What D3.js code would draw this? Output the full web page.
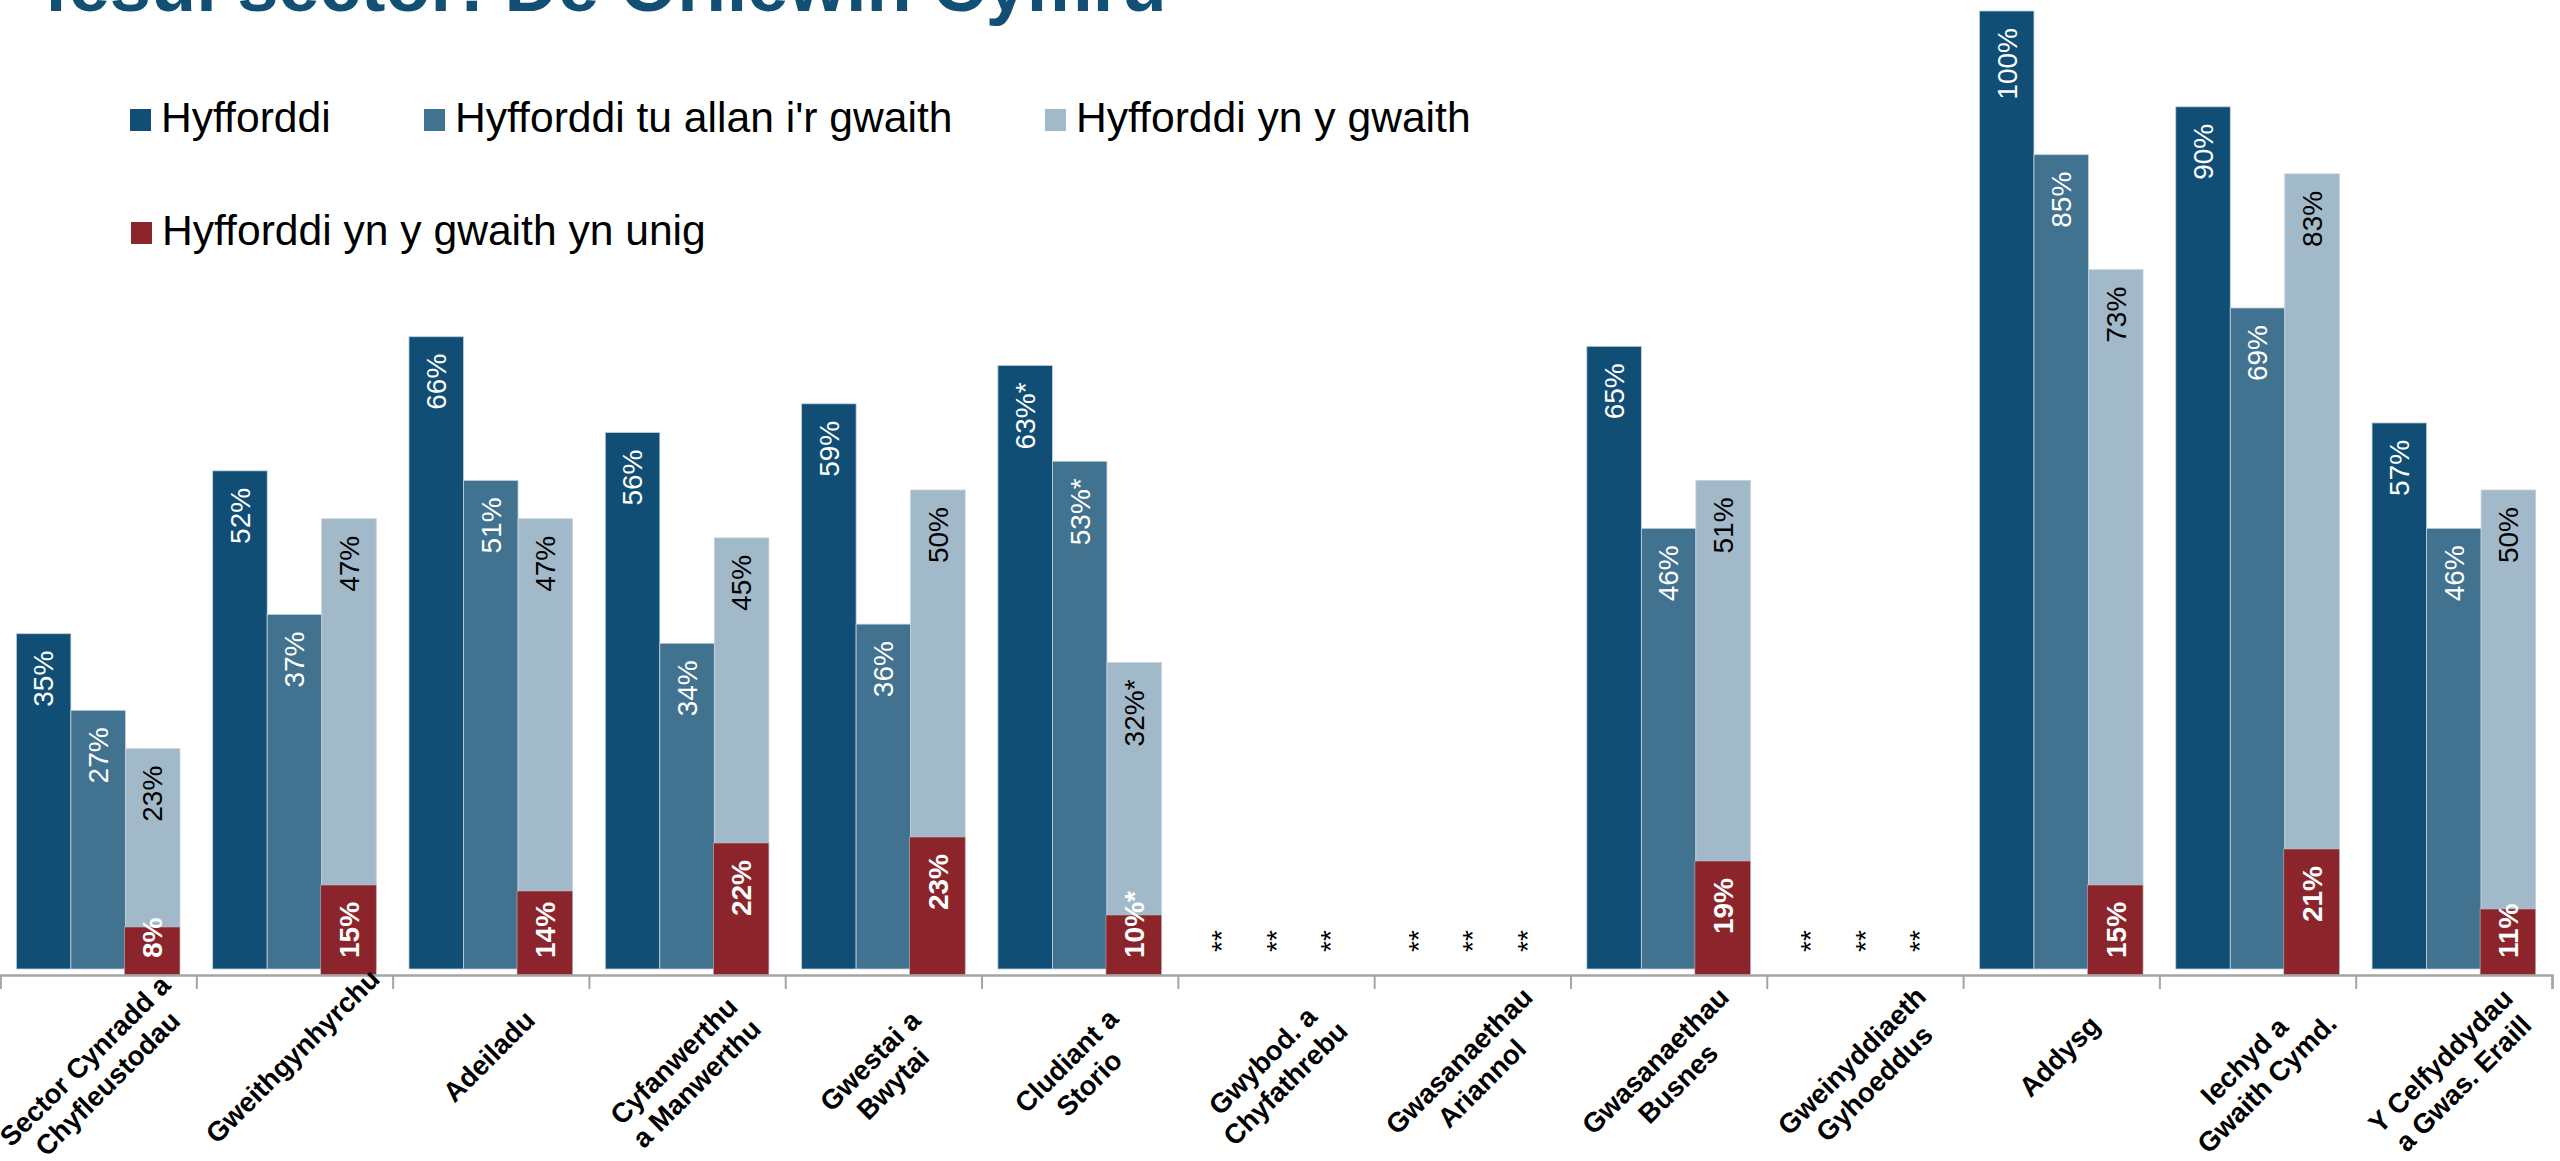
<!DOCTYPE html>
<html><head><meta charset="utf-8">
<script src="https://cdn.jsdelivr.net/npm/d3@7"></script>
<style>
html,body{margin:0;padding:0;background:#fff;overflow:hidden}
svg{display:block}
text{font-family:"Liberation Sans",Arial,Helvetica,sans-serif}
</style></head><body>
<svg id="chart" width="2560" height="1161"></svg>
<script>
// ---------- data ----------
const titleText = "fesul sector: De Orllewin Cymru";
const categories = [
  "Sector Cynradd a\nChyfleustodau",
  "Gweithgynhyrchu",
  "Adeiladu",
  "Cyfanwerthu\na Manwerthu",
  "Gwestai a\nBwytai",
  "Cludiant a\nStorio",
  "Gwybod. a\nChyfathrebu",
  "Gwasanaethau\nAriannol",
  "Gwasanaethau\nBusnes",
  "Gweinyddiaeth\nGyhoeddus",
  "Addysg",
  "Iechyd a\nGwaith Cymd.",
  "Y Celfyddydau\na Gwas. Eraill"
];
const seriesNames = ["Hyfforddi", "Hyfforddi tu allan i'r gwaith", "Hyfforddi yn y gwaith", "Hyfforddi yn y gwaith yn unig"];
// null = suppressed (shown as **)
const hyfforddi      = [35, 52, 66, 56, 59, 63, null, null, 65, null, 100, 90, 57];
const tuAllan        = [27, 37, 51, 34, 36, 53, null, null, 46, null, 85, 69, 46];
const ynYGwaith      = [23, 47, 47, 45, 50, 32, null, null, 51, null, 73, 83, 50];
const ynYGwaithUnig  = [8, 15, 14, 22, 23, 10, null, null, 19, null, 15, 21, 11];
// low base flag (value shown with *)
const lowBase        = [false, false, false, false, false, true, false, false, false, false, false, false, false];

// ---------- style ----------
const colors = ["#114E75", "#41728F", "#A2B9CA", "#8B252B"];
const labelColors = ["#ffffff", "#ffffff", "#000000", "#ffffff"];
const titleColor = "#124F74";

const svg = d3.select("#chart");

// ---------- scales ----------
const idx = d3.range(categories.length);
const x0 = d3.scaleBand().domain(idx).range([0, 2552]).padding(0);
const x1 = d3.scaleBand().domain([0, 1, 2]).range([0, x0.bandwidth()]).paddingInner(0).paddingOuter(0.3);
const y = d3.scaleLinear().domain([0, 100]).range([969, 11]);
const y2 = d3.scaleLinear().domain([0, 100]).range([975, 375]);
const xb = d3.scaleLinear().domain([0, categories.length]).range([0, 2552]);

// ---------- title ----------
svg.append("text")
  .attr("x", 44).attr("y", 11)
  .attr("font-size", 74).attr("font-weight", "bold")
  .attr("fill", titleColor)
  .text(titleText);

// ---------- legend ----------
const legendItems = [
  {i: 0, x: 130, row: 0},
  {i: 1, x: 424, row: 0},
  {i: 2, x: 1045, row: 0},
  {i: 3, x: 131, row: 1}
];
const legend = svg.append("g");
legendItems.forEach(d => {
  const yBase = d.row === 0 ? 132 : 245;
  legend.append("rect").attr("x", d.x).attr("y", yBase - 23).attr("width", 21).attr("height", 22).attr("fill", colors[d.i]);
  legend.append("text").attr("x", d.x + 31).attr("y", yBase).attr("font-size", 42.6).attr("fill", "#000").text(seriesNames[d.i]);
});

// ---------- bars ----------
const primary = [hyfforddi, tuAllan, ynYGwaith];
const plot = svg.append("g");

primary.forEach((arr, s) => {
  plot.selectAll(null).data(idx.filter(i => arr[i] != null)).enter().append("rect")
    .attr("x", i => x0(i) + x1(s))
    .attr("width", x1.bandwidth())
    .attr("y", i => y(arr[i]))
    .attr("height", i => y(0) - y(arr[i]))
    .attr("fill", colors[s])
    .attr("stroke", "#c3d0da").attr("stroke-width", 0.8);
});
// red (secondary axis) bars
plot.selectAll(null).data(idx.filter(i => ynYGwaithUnig[i] != null)).enter().append("rect")
  .attr("x", i => x0(i) + x1(2) - 1)
  .attr("width", x1.bandwidth() + 1)
  .attr("y", i => y2(ynYGwaithUnig[i]))
  .attr("height", i => y2(0) - y2(ynYGwaithUnig[i]))
  .attr("fill", colors[3])
  .attr("stroke", "#b9b9b9").attr("stroke-width", 0.6);

// ---------- axis ----------
const axisG = svg.append("g").attr("transform", `translate(0,${y2(0)})`)
  .call(d3.axisBottom(xb).ticks(categories.length).tickSize(14).tickFormat(""));
axisG.select(".domain").attr("stroke", "#a5a5a5").attr("stroke-width", 2.5);
axisG.selectAll(".tick line").attr("stroke", "#a5a5a5").attr("stroke-width", 2);

// ---------- data labels ----------
const gap = 17;
function placeLabel(cx, topY, baseY, txt, color, bold) {
  const t = plot.append("text")
    .attr("font-size", 28)
    .attr("font-weight", bold ? "bold" : "normal")
    .attr("fill", color)
    .attr("dy", "0.35em")
    .text(txt);
  const L = t.node().getComputedTextLength();
  const endY = topY + gap;
  if (endY + L > baseY - gap) {
    t.attr("text-anchor", "start").attr("transform", `translate(${cx},${baseY - gap}) rotate(-90)`);
  } else {
    t.attr("text-anchor", "end").attr("transform", `translate(${cx},${endY}) rotate(-90)`);
  }
}
primary.forEach((arr, s) => {
  idx.forEach(i => {
    const cx = x0(i) + x1(s) + x1.bandwidth() / 2;
    if (arr[i] == null) {
      placeLabel(cx, y(0), y(0), "**", "#000", false);
    } else {
      placeLabel(cx, y(arr[i]), y(0), arr[i] + "%" + (lowBase[i] ? "*" : ""), labelColors[s], false);
    }
  });
});
idx.forEach(i => {
  const v = ynYGwaithUnig[i];
  if (v == null) return;
  const cx = x0(i) + x1(2) + x1.bandwidth() / 2;
  placeLabel(cx, y2(v), y2(0), v + "%" + (lowBase[i] ? "*" : ""), labelColors[3], true);
});

// ---------- category labels ----------
const lh = 32;
idx.forEach(i => {
  const lines = categories[i].split("\n");
  const n = lines.length;
  const cx = x0(i) + x0.bandwidth() / 2 - 2;
  const cy = n === 1 ? 1056 : 1072;
  const g = svg.append("g").attr("transform", `translate(${cx},${cy}) rotate(-45)`);
  const t = g.append("text").attr("text-anchor", "middle").attr("font-size", 27.5).attr("font-weight", "bold").attr("fill", "#000");
  lines.forEach((ln, k) => {
    t.append("tspan").attr("x", 0).attr("y", (k - (n - 1) / 2) * lh).attr("dy", "0.35em").text(ln);
  });
});
</script>
</body></html>
